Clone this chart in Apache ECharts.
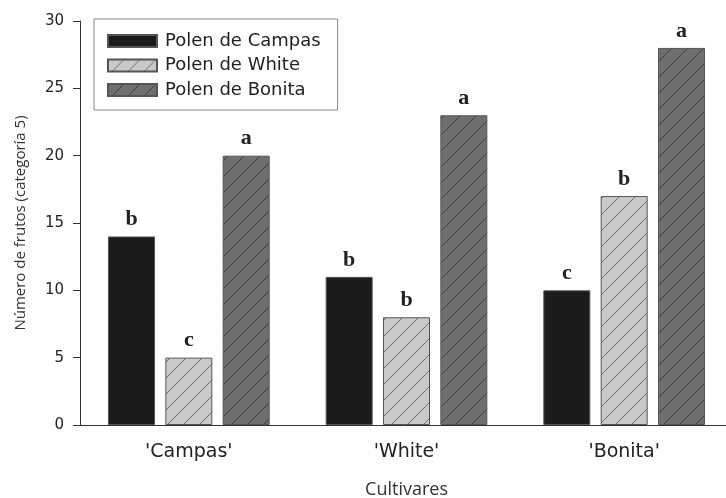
<!DOCTYPE html>
<html><head><meta charset="utf-8">
<script src="https://cdn.jsdelivr.net/npm/echarts@6/dist/echarts.min.js"></script>
<style>html,body{margin:0;padding:0;background:#fff;overflow:hidden}#c{width:726px;height:498px}</style>
</head><body><div id="c"></div>
<script>
const categories = ["'Campas'", "'White'", "'Bonita'"];
const seriesNames = ['Polen de Campas', 'Polen de White', 'Polen de Bonita'];
const valuesCampas = [14, 11, 10];
const valuesWhite = [5, 8, 17];
const valuesBonita = [20, 23, 28];
const lettersCampas = ['b', 'b', 'c'];
const lettersWhite = ['c', 'b', 'b'];
const lettersBonita = ['a', 'a', 'a'];
const yTicks = [0, 5, 10, 15, 20, 25, 30];

function hatch(fill, line) {
  const s = 16;
  const cv = document.createElement('canvas');
  cv.width = s; cv.height = s;
  const ctx = cv.getContext('2d');
  ctx.fillStyle = fill; ctx.fillRect(0, 0, s, s);
  ctx.strokeStyle = line; ctx.lineWidth = 0.8;
  ctx.beginPath();
  ctx.moveTo(-1, s + 1); ctx.lineTo(s + 1, -1);
  ctx.moveTo(-1, 1); ctx.lineTo(1, -1);
  ctx.moveTo(s - 1, s + 1); ctx.lineTo(s + 1, s - 1);
  ctx.stroke();
  return { image: cv, repeat: 'repeat' };
}

const chart = echarts.init(document.getElementById('c'), null, { renderer: 'canvas' });
const labelStyle = {
  show: true, position: 'top', distance: 6,
  fontFamily: 'Liberation Serif, Times New Roman, serif', fontWeight: 'bold', fontSize: 22, color: '#222'
};
function mk(name, vals, letters, color) {
  return {
    name, type: 'bar', data: vals, barWidth: 47, barGap: '22%',
    itemStyle: { color, borderColor: '#555', borderWidth: 1 },
    label: Object.assign({}, labelStyle, { formatter: p => letters[p.dataIndex] })
  };
}
chart.setOption({
  animation: false,
  backgroundColor: '#fff',
  grid: { left: 80, width: 653, top: 21, height: 404, containLabel: false, outerBoundsMode: 'none' },
  legend: {
    left: 94, top: 19, orient: 'vertical',
    padding: [12, 17, 10, 13],
    borderColor: '#888', borderWidth: 1,
    itemWidth: 49, itemHeight: 12, itemGap: 4.5,
    textStyle: { fontFamily: 'DejaVu Sans, sans-serif', fontSize: 18, lineHeight: 20, color: '#222', padding: [0, 0, 0, 3] },
    data: seriesNames.map(n => ({ name: n, icon: 'rect' }))
  },
  xAxis: {
    type: 'category', data: categories,
    name: 'Cultivares', nameLocation: 'middle', nameGap: 56,
    nameTextStyle: { fontFamily: 'Open Sans, sans-serif', fontSize: 18, color: '#333' },
    axisLine: { lineStyle: { color: '#333', width: 1 } },
    axisTick: { alignWithLabel: true, length: 6, lineStyle: { color: '#333' } },
    axisLabel: { margin: 18, fontFamily: 'DejaVu Sans, sans-serif', fontSize: 19, color: '#222' }
  },
  yAxis: {
    type: 'value', min: 0, max: 30, interval: 5,
    name: 'Número de frutos (categoría 5)', nameLocation: 'middle', nameGap: 52,
    nameTextStyle: { fontFamily: 'Open Sans, sans-serif', fontSize: 15, color: '#333' },
    axisLine: { show: true, lineStyle: { color: '#333', width: 1 } },
    axisTick: { show: true, length: 7, lineStyle: { color: '#333' } },
    splitLine: { show: false },
    axisLabel: { margin: 16, fontFamily: 'DejaVu Sans, sans-serif', fontSize: 15, color: '#222',
      formatter: v => yTicks.includes(v) ? String(v) : '' }
  },
  series: [
    mk(seriesNames[0], valuesCampas, lettersCampas, '#1c1a1b'),
    mk(seriesNames[1], valuesWhite, lettersWhite, hatch('#c9c9c9', '#555')),
    mk(seriesNames[2], valuesBonita, lettersBonita, hatch('#6f6f70', '#333'))
  ]
});
</script></body></html>
